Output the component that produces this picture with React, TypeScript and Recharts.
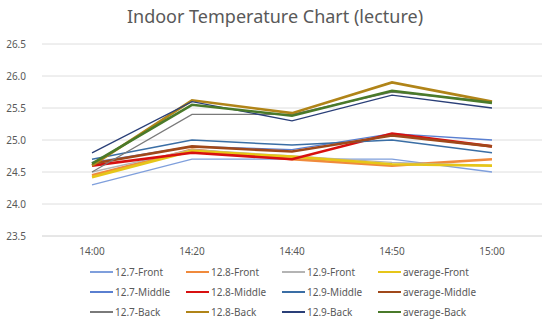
import React from 'react';
import { LineChart, Line, XAxis, YAxis, CartesianGrid } from 'recharts';

const times = ['14:00', '14:20', '14:40', '14:50', '15:00'];
const yTicks = [23.5, 24.0, 24.5, 25.0, 25.5, 26.0, 26.5];

const s127Front = [24.3, 24.7, 24.7, 24.7, 24.5];
const s128Front = [24.45, 24.85, 24.7, 24.6, 24.7];
const s129Front = [24.5, 24.85, 24.75, 24.65, 24.6];
const avgFront = [24.42, 24.83, 24.74, 24.62, 24.6];
const s127Middle = [24.65, 24.9, 24.85, 25.1, 25.0];
const s128Middle = [24.6, 24.8, 24.7, 25.1, 24.9];
const s129Middle = [24.7, 25.0, 24.92, 25.0, 24.8];
const avgMiddle = [24.63, 24.9, 24.82, 25.07, 24.9];
const s127Back = [24.5, 25.4, 25.4, 25.75, 25.6];
const s128Back = [24.6, 25.62, 25.42, 25.9, 25.6];
const s129Back = [24.8, 25.6, 25.3, 25.7, 25.5];
const avgBack = [24.63, 25.55, 25.38, 25.77, 25.58];

const series = [
  { name: '12.7-Front', values: s127Front, color: '#7f9fdc', width: 1.3 },
  { name: '12.8-Front', values: s128Front, color: '#f08a3c', width: 2.6 },
  { name: '12.9-Front', values: s129Front, color: '#b4b4b4', width: 1.3 },
  { name: 'average-Front', values: avgFront, color: '#e6c619', width: 2.6 },
  { name: '12.7-Middle', values: s127Middle, color: '#5a7fd0', width: 1.3 },
  { name: '12.8-Middle', values: s128Middle, color: '#d81010', width: 2.6 },
  { name: '12.9-Middle', values: s129Middle, color: '#3a6ea5', width: 1.5 },
  { name: 'average-Middle', values: avgMiddle, color: '#a0481a', width: 2.6 },
  { name: '12.7-Back', values: s127Back, color: '#7a7a7a', width: 1.3 },
  { name: '12.8-Back', values: s128Back, color: '#b08418', width: 2.6 },
  { name: '12.9-Back', values: s129Back, color: '#2a3f78', width: 1.3 },
  { name: 'average-Back', values: avgBack, color: '#4a7a2a', width: 2.6 },
];

const data = times.map((t, i) => {
  const row: Record<string, string | number> = { time: t };
  series.forEach((s) => {
    row[s.name] = s.values[i];
  });
  return row;
});

const font = '"Noto Sans", "Open Sans", sans-serif';

export default function App() {
  return (
    <div style={{ position: 'absolute', left: 0, top: 0, width: 550, height: 326, background: '#fff', fontFamily: font }}>
      <div style={{ position: 'absolute', top: 4, width: 550, textAlign: 'center', fontSize: 18, color: '#595959' }}>
        Indoor Temperature Chart (lecture)
      </div>
      <LineChart width={550} height={326} data={data} margin={{ top: 44, right: 8, bottom: 70, left: 0 }}>
        <CartesianGrid vertical={false} stroke="#dedede" />
        <XAxis
          dataKey="time"
          padding={{ left: 50, right: 50 }}
          axisLine={{ stroke: '#dedede' }}
          tickLine={false}
          height={20}
          tickMargin={6}
          tick={{ fontSize: 10, fill: '#595959', fontFamily: font }}
        />
        <YAxis
          domain={[23.5, 26.5]}
          ticks={yTicks}
          width={42}
          axisLine={false}
          tickLine={false}
          tickMargin={10}
          tickFormatter={(v: number) => v.toFixed(1)}
          tick={{ fontSize: 10, fill: '#595959', fontFamily: font }}
        />
        {series.map((s) => (
          <Line
            key={s.name}
            type="linear"
            dataKey={s.name}
            stroke={s.color}
            strokeWidth={s.width}
            dot={false}
            isAnimationActive={false}
          />
        ))}
      </LineChart>
      <div
        style={{
          position: 'absolute',
          left: 90,
          top: 264,
          width: 420,
          display: 'grid',
          gridTemplateColumns: 'repeat(4, 96px)',
          rowGap: 4,
          fontSize: 10,
          color: '#595959',
        }}
      >
        {series.map((s) => (
          <div key={s.name} style={{ display: 'flex', alignItems: 'center', height: 16, whiteSpace: 'nowrap' }}>
            <span style={{ display: 'inline-block', flex: 'none', width: 23, height: s.width, background: s.color, marginRight: 2 }} />
            <span>{s.name}</span>
          </div>
        ))}
      </div>
    </div>
  );
}
